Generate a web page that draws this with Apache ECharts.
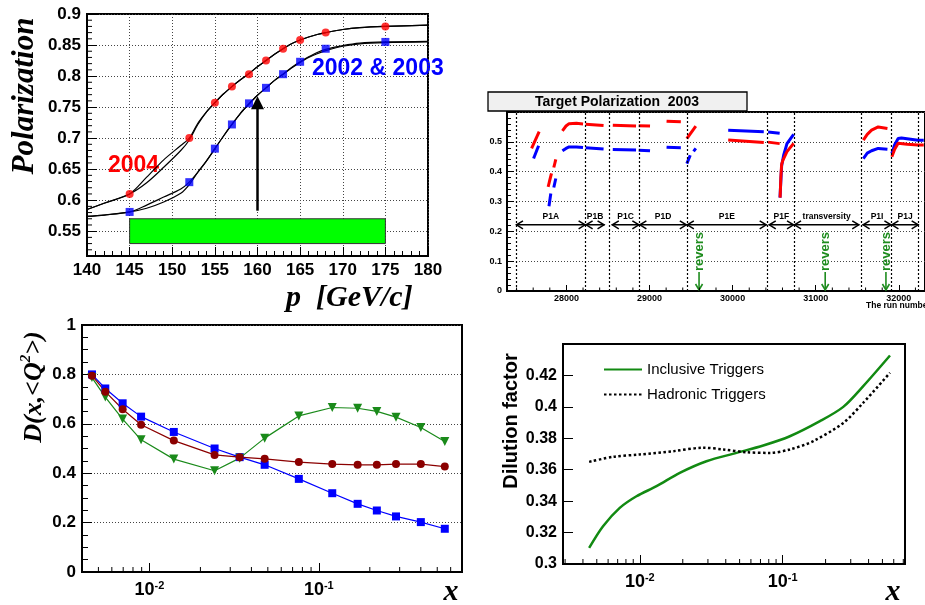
<!DOCTYPE html>
<html><head><meta charset="utf-8">
<script src="https://cdn.jsdelivr.net/npm/echarts@6/dist/echarts.min.js"></script>
<style>html,body{margin:0;padding:0;background:#fff}#c{width:925px;height:605px}</style>
</head><body><div id="c"></div><script>
// ---------- Panel 1: polarization vs momentum ----------
const p1Momentum = [145,152,155,157,159,161,163,165,168,175];
const p1Pol2004 = [0.610,0.700,0.757,0.783,0.803,0.825,0.844,0.858,0.870,0.880];
const p1Pol0203 = [0.581,0.629,0.683,0.722,0.756,0.781,0.803,0.823,0.844,0.855];
const p1FitRedA = [[140,0.585],[142,0.595],[145,0.610],[147,0.637],[149,0.665],[151,0.688],[152,0.700],[153,0.724],[154,0.742],[155,0.757],[156,0.771],[157,0.783],[158,0.794],[159,0.804],[160,0.815],[161,0.825],[162,0.835],[163,0.844],[164,0.852],[165,0.858],[166,0.863],[167,0.867],[168,0.870],[170,0.875],[172,0.878],[175,0.880],[180,0.882]];
const p1FitRedB = [[140,0.585],[142,0.595],[145,0.610],[147,0.628],[149,0.653],[151,0.680],[152,0.697],[153,0.722],[154,0.742],[155,0.757],[156,0.771],[157,0.783],[158,0.794],[159,0.804],[160,0.815],[161,0.825],[162,0.835],[163,0.844],[164,0.852],[165,0.858],[166,0.863],[167,0.867],[168,0.870],[170,0.875],[172,0.878],[175,0.880],[180,0.882]];
const p1FitBlueA = [[140,0.574],[142,0.576],[145,0.581],[147,0.592],[149,0.605],[151,0.618],[152,0.629],[153,0.645],[154,0.663],[155,0.683],[156,0.703],[157,0.722],[158,0.740],[159,0.755],[160,0.769],[161,0.781],[162,0.793],[163,0.803],[164,0.814],[165,0.823],[166,0.831],[167,0.838],[168,0.843],[170,0.849],[172,0.853],[175,0.855],[180,0.856]];
const p1FitBlueB = [[140,0.574],[142,0.576],[145,0.581],[147,0.587],[149,0.597],[151,0.611],[152,0.625],[153,0.645],[154,0.663],[155,0.683],[156,0.703],[157,0.722],[158,0.740],[159,0.755],[160,0.769],[161,0.781],[162,0.793],[163,0.803],[164,0.813],[165,0.822],[166,0.830],[167,0.836],[168,0.841],[170,0.848],[172,0.852],[175,0.854],[180,0.855]];
const p1BandX = [145,175];
const p1BandY = [0.53,0.57];
const p1Arrow = {x:160, from:0.583, to:0.757};
const p1MinorY = [0.52,0.53,0.54,0.56,0.57,0.58,0.59,0.61,0.62,0.63,0.64,0.66,0.67,0.68,0.69,0.71,0.72,0.73,0.74,0.76,0.77,0.78,0.79,0.81,0.82,0.83,0.84,0.86,0.87,0.88,0.89];

// ---------- Panel 2: target polarization 2003 ----------
const p2RedSegments = [
  [[27581,0.478],[27672,0.534]],
  [[27780,0.349],[27820,0.394]],
  [[27848,0.414],[27872,0.441]],
  [[27952,0.537],[27995,0.553],[28032,0.561],[28120,0.562],[28200,0.560]],
  [[28231,0.559],[28447,0.555]],
  [[28558,0.556],[28838,0.553]],
  [[28870,0.554],[29006,0.553]],
  [[29205,0.569],[29377,0.567]],
  [[29449,0.511],[29557,0.553]],
  [[29947,0.506],[30375,0.498]],
  [[30427,0.499],[30566,0.494]],
  [[30572,0.313],[30580,0.380],[30590,0.425],[30606,0.439],[30654,0.467],[30734,0.495]],
  [[31573,0.506],[31620,0.525],[31672,0.539],[31752,0.550],[31863,0.545]],
  [[31916,0.450],[31950,0.475],[31992,0.495],[32100,0.492],[32231,0.489],[32300,0.489]]
];
const p2BlueSegments = [
  [[27605,0.444],[27665,0.487]],
  [[27790,0.284],[27812,0.327]],
  [[27848,0.347],[27872,0.377]],
  [[27952,0.470],[27995,0.478],[28032,0.483],[28120,0.483],[28200,0.481]],
  [[28231,0.480],[28447,0.476]],
  [[28558,0.474],[28838,0.473]],
  [[28870,0.472],[29006,0.470]],
  [[29205,0.482],[29377,0.480]],
  [[29449,0.427],[29490,0.455]],
  [[29530,0.468],[29557,0.478]],
  [[29947,0.539],[30375,0.534]],
  [[30427,0.533],[30566,0.529]],
  [[30570,0.313],[30590,0.420],[30614,0.455],[30654,0.494],[30734,0.525]],
  [[31573,0.444],[31620,0.462],[31672,0.470],[31752,0.478],[31863,0.475]],
  [[31916,0.461],[31950,0.490],[31992,0.511],[32032,0.513],[32231,0.505],[32300,0.505]]
];
const p2Boundaries = [27393,28231,28510,28878,29449,30419,30739,31545,31911,32239];
const p2PeriodNames = ['P1A','P1B','P1C','P1D','P1E','P1F','transversity','P1I','P1J'];
const p2PeriodStart = [27393,28231,28546,28878,29449,30435,30739,31564,31911];
const p2PeriodEnd   = [28231,28459,28878,29449,30410,30739,31524,31911,32239];
const p2ArrowY = 0.222, p2LabelY = 0.248;
const p2Reversals = [29596,31114,31845];
const p2MinorX = [27400,27600,27800,28200,28400,28600,28800,29200,29400,29600,29800,30200,30400,30600,30800,31200,31400,31600,31800,32200];

// ---------- Panel 3: D(x,<Q2>) ----------
const p3X = [0.00458,0.00549,0.00695,0.00893,0.01393,0.02425,0.0341,0.0479,0.0762,0.120,0.1695,0.220,0.2855,0.400,0.554];
const p3Blue  = [0.800,0.743,0.683,0.629,0.567,0.500,0.465,0.434,0.377,0.319,0.276,0.249,0.225,0.202,0.175];
const p3Red   = [0.795,0.730,0.659,0.596,0.532,0.474,0.465,0.458,0.445,0.437,0.434,0.434,0.437,0.437,0.427];
const p3Green = [0.787,0.708,0.619,0.535,0.457,0.410,0.461,0.542,0.632,0.666,0.663,0.650,0.627,0.585,0.528];
const p3MinorX = [0.005,0.006,0.007,0.008,0.009,0.02,0.03,0.04,0.05,0.06,0.07,0.08,0.09,0.2,0.3,0.4,0.5,0.6,0.7];

// ---------- Panel 4: dilution factor ----------
const p4IncX = [0.00442,0.00553,0.00724,0.00948,0.0131,0.01906,0.0293,0.0476,0.0732,0.1124,0.1826,0.266,0.367,0.565];
const p4Inc  = [0.3102,0.3240,0.3357,0.3431,0.3495,0.3580,0.3654,0.3707,0.3754,0.3813,0.3909,0.4000,0.4132,0.4327];
const p4HadX = [0.00442,0.0065,0.01,0.01713,0.0278,0.0384,0.056,0.0815,0.1124,0.164,0.266,0.367,0.565];
const p4Had  = [0.3650,0.3682,0.3697,0.3718,0.3740,0.3729,0.3711,0.3707,0.3729,0.3782,0.3898,0.4026,0.4217];
const p4MinorX = [0.003,0.004,0.005,0.006,0.007,0.008,0.009,0.02,0.03,0.04,0.05,0.06,0.07,0.08,0.09,0.2,0.3,0.4,0.5,0.6,0.7];

// ---------- helpers ----------
const SANS = 'Liberation Sans';
const zip = (xs, ys) => xs.map((x, i) => [x, ys[i]]);
function minorTicks(idx, vals, dir, anchor, len) {
  return {
    type: 'custom', xAxisIndex: idx, yAxisIndex: idx, silent: true, z: 5,
    data: vals.map(v => dir === 'x' ? [v, anchor] : [anchor, v]),
    renderItem: (params, api) => {
      const p = api.coord([api.value(0), api.value(1)]);
      return {type: 'line',
        shape: dir === 'x' ? {x1: p[0], y1: p[1], x2: p[0], y2: p[1] - len} : {x1: p[0], y1: p[1], x2: p[0] + len, y2: p[1]},
        style: {stroke: '#000', lineWidth: 1}};
    }
  };
}
function axisBase(o) {
  const fs = o.fs || 17;
  return Object.assign({
    type: 'value',
    axisLine: {show: true, onZero: false, lineStyle: {color: '#000', width: 2}},
    axisTick: {show: true, inside: true, length: o.tick || 9, lineStyle: {color: '#000', width: 1}},
    axisLabel: {color: '#000', fontFamily: SANS, fontWeight: 'bold', fontSize: fs, margin: o.margin || 6},
    splitLine: {show: false}
  }, o.extra || {});
}
const dotted = {show: true, lineStyle: {color: '#444', type: [1, 2], width: 1}};
const logLabel = v => '{b|10}{s|' + Math.round(Math.log10(v)) + '}';

const grids = [
  {left: 87, top: 14, width: 341, height: 242},
  {left: 507, top: 112, width: 420, height: 179},
  {left: 82, top: 325, width: 380, height: 247},
  {left: 563, top: 344, width: 342, height: 220}
].map(g => Object.assign(g, {show: true, borderColor: '#000', borderWidth: 2, backgroundColor: 'transparent', containLabel: false}));

const xAxes = [
  axisBase({extra: {gridIndex: 0, min: 140, max: 180, interval: 5, splitLine: dotted,
    minorTick: {show: true, splitNumber: 5, length: 5, lineStyle: {color: '#000'}}}}),
  axisBase({fs: 9, tick: 6, margin: 3, extra: {gridIndex: 1, min: 27285, max: 32315, splitNumber: 5}}),
  axisBase({tick: 9, margin: 8, extra: {gridIndex: 2, type: 'log', logBase: 10, min: 0.004, max: 0.7}}),
  axisBase({tick: 9, margin: 8, extra: {gridIndex: 3, type: 'log', logBase: 10, min: 0.0029, max: 0.7195}})
];
xAxes[1].axisLabel.showMinLabel = false; xAxes[1].axisLabel.showMaxLabel = false;
xAxes[1].axisLabel.formatter = v => String(v);
[2, 3].forEach(i => {
  xAxes[i].axisLabel.showMinLabel = false; xAxes[i].axisLabel.showMaxLabel = false;
  xAxes[i].axisLabel.formatter = logLabel;
  xAxes[i].axisLabel.rich = {
    b: {fontFamily: SANS, fontWeight: 'bold', fontSize: 18, color: '#000', lineHeight: 20},
    s: {fontFamily: SANS, fontWeight: 'bold', fontSize: 11, color: '#000', verticalAlign: 'top', padding: [0, 0, 10, 0]}
  };
});

const yAxes = [
  axisBase({margin: 6, tick: 10, extra: {gridIndex: 0, min: 0.51, max: 0.9, splitNumber: 8, splitLine: dotted}}),
  axisBase({fs: 9, tick: 7, margin: 5, extra: {gridIndex: 1, min: 0, max: 0.6, interval: 0.1, splitLine: dotted,
    minorTick: {show: true, splitNumber: 5, length: 4, lineStyle: {color: '#000'}}}}),
  axisBase({margin: 6, tick: 10, extra: {gridIndex: 2, min: 0, max: 1, interval: 0.2, splitLine: dotted,
    minorTick: {show: true, splitNumber: 4, length: 6, lineStyle: {color: '#000'}}}}),
  axisBase({fs: 16, margin: 6, tick: 10, extra: {gridIndex: 3, min: 0.3, max: 0.44, interval: 0.02}})
];
yAxes[0].axisLabel.showMinLabel = false;
yAxes[1].axisLabel.showMaxLabel = false;
yAxes[3].axisLabel.showMaxLabel = false;

const series = [];
// Panel 1
[p1FitRedA, p1FitRedB, p1FitBlueA, p1FitBlueB].forEach(d => series.push({
  type: 'line', xAxisIndex: 0, yAxisIndex: 0, data: d, smooth: 0.3, symbol: 'none',
  lineStyle: {color: '#000', width: 1.2}, silent: true
}));
series.push({
  type: 'scatter', xAxisIndex: 0, yAxisIndex: 0, data: zip(p1Momentum, p1Pol2004),
  symbol: 'circle', symbolSize: 8, itemStyle: {color: '#ff0000'}, z: 4,
  markArea: {silent: true, itemStyle: {color: '#00ff00', borderColor: '#333', borderWidth: 1},
    data: [[{coord: [p1BandX[0], p1BandY[0]]}, {coord: [p1BandX[1], p1BandY[1]]}]]},
  markLine: {silent: true, symbol: ['none', 'triangle'], symbolSize: 13, label: {show: false},
    lineStyle: {color: '#000', width: 2.5, type: 'solid'},
    data: [[{coord: [p1Arrow.x, p1Arrow.from]}, {coord: [p1Arrow.x, p1Arrow.to]}]]}
});
series.push({
  type: 'scatter', xAxisIndex: 0, yAxisIndex: 0, data: zip(p1Momentum, p1Pol0203),
  symbol: 'rect', symbolSize: 8, itemStyle: {color: '#0000ff'}, z: 4
});
series.push(minorTicks(0, p1MinorY, 'y', 140, 5));

// Panel 2
p2BlueSegments.forEach(seg => series.push({
  type: 'line', xAxisIndex: 1, yAxisIndex: 1, data: seg, symbol: 'none', silent: true,
  lineStyle: {color: '#0000ff', width: 3}
}));
p2RedSegments.forEach(seg => series.push({
  type: 'line', xAxisIndex: 1, yAxisIndex: 1, data: seg, symbol: 'none', silent: true,
  lineStyle: {color: '#ff0000', width: 3}
}));
series.push({
  type: 'custom', xAxisIndex: 1, yAxisIndex: 1, silent: true,
  data: p2PeriodStart.map((s, i) => [s, p2PeriodEnd[i]]),
  markLine: {silent: true, symbol: ['none', 'none'], label: {show: false},
    lineStyle: {color: '#000', type: [2, 2], width: 1.2},
    data: p2Boundaries.map(v => ({xAxis: v}))},
  renderItem: (params, api) => {
    const x0 = api.value(0), x1 = api.value(1);
    const a = api.coord([x0, p2ArrowY]), b = api.coord([x1, p2ArrowY]);
    const t = api.coord([(x0 + x1) / 2, p2LabelY]);
    const w = 7, h = 4;
    const st = {stroke: '#000', lineWidth: 1.5, fill: null};
    return {type: 'group', children: [
      {type: 'line', shape: {x1: a[0], y1: a[1], x2: b[0], y2: b[1]}, style: st},
      {type: 'polyline', shape: {points: [[a[0] + w, a[1] - h], [a[0] + 0.5, a[1]], [a[0] + w, a[1] + h]]}, style: st},
      {type: 'polyline', shape: {points: [[b[0] - w, b[1] - h], [b[0] - 0.5, b[1]], [b[0] - w, b[1] + h]]}, style: st},
      {type: 'text', x: t[0], y: t[1], style: {text: p2PeriodNames[params.dataIndex], fill: '#000',
        font: 'bold 8.5px "Liberation Sans"', align: 'center', verticalAlign: 'middle'}}
    ]};
  }
});
series.push({
  type: 'custom', xAxisIndex: 1, yAxisIndex: 1, silent: true,
  data: p2Reversals.map(v => [v, 0]),
  renderItem: (params, api) => {
    const p = api.coord([api.value(0), api.value(1)]);
    const g = '#1e8c1e';
    const st = {stroke: g, lineWidth: 1.6, fill: null};
    return {type: 'group', children: [
      {type: 'line', shape: {x1: p[0], y1: p[1] - 1, x2: p[0], y2: p[1] - 19}, style: st},
      {type: 'polyline', shape: {points: [[p[0] - 3.5, p[1] - 7], [p[0], p[1] - 1], [p[0] + 3.5, p[1] - 7]]}, style: st},
      {type: 'text', x: p[0], y: p[1] - 20, rotation: Math.PI / 2,
        style: {text: 'revers', fill: g, font: 'bold 13px "Liberation Sans"', align: 'left', verticalAlign: 'middle'}}
    ]};
  }
});
series.push(minorTicks(1, p2MinorX, 'x', 0, 3.5));

// Panel 3
series.push({type: 'line', xAxisIndex: 2, yAxisIndex: 2, data: zip(p3X, p3Blue), symbol: 'rect', symbolSize: 8,
  lineStyle: {color: '#0000ff', width: 1.2}, itemStyle: {color: '#0000ff'}, silent: true});
series.push({type: 'line', xAxisIndex: 2, yAxisIndex: 2, data: zip(p3X, p3Green), symbol: 'triangle', symbolRotate: 180, symbolSize: 9,
  lineStyle: {color: '#1a8a1a', width: 1.2}, itemStyle: {color: '#1a8a1a'}, silent: true});
series.push({type: 'line', xAxisIndex: 2, yAxisIndex: 2, data: zip(p3X, p3Red), symbol: 'circle', symbolSize: 8,
  lineStyle: {color: '#8b0000', width: 1.2}, itemStyle: {color: '#8b0000'}, silent: true});
series.push(minorTicks(2, p3MinorX, 'x', 0, 5));

// Panel 4
series.push({name: 'Inclusive Triggers', type: 'line', xAxisIndex: 3, yAxisIndex: 3, data: zip(p4IncX, p4Inc),
  smooth: 0.3, symbol: 'none', lineStyle: {color: '#128a12', width: 2.5}, itemStyle: {color: '#128a12'}, silent: true});
series.push({name: 'Hadronic Triggers', type: 'line', xAxisIndex: 3, yAxisIndex: 3, data: zip(p4HadX, p4Had),
  smooth: 0.3, symbol: 'none', lineStyle: {color: '#000', width: 2.5, type: [2.5, 2.5]}, itemStyle: {color: '#000'}, silent: true});
series.push(minorTicks(3, p4MinorX, 'x', 0.3, 5));

const txt = (x, y, text, font, fill, opts) => Object.assign({type: 'text', x, y,
  style: Object.assign({text, font, fill: fill || '#000', align: 'left', verticalAlign: 'middle', textAlign: 'left', textVerticalAlign: 'middle'}, (opts && opts.style) || {})},
  (opts && opts.el) || {});

const graphic = [
  txt(25, 96, 'Polarization', 'italic bold 31px "Liberation Serif"', '#000', {el: {rotation: Math.PI / 2}, style: {align: 'center', textAlign: 'center'}}),
  txt(286, 298, 'p  [GeV/c]', 'italic bold 30px "Liberation Serif"'),
  txt(108, 166, '2004', 'bold 23px "Liberation Sans"', '#ff0000'),
  txt(312, 69, '2002 & 2003', 'bold 23px "Liberation Sans"', '#0000ff'),
  {type: 'rect', shape: {x: 488, y: 92, width: 259, height: 19}, style: {fill: '#f0f0f0', stroke: '#000', lineWidth: 1.3}},
  txt(617, 102, 'Target Polarization  2003', 'bold 14px "Liberation Sans"', '#000', {style: {align: 'center', textAlign: 'center'}}),
  txt(866, 306, 'The run number', 'bold 8.5px "Liberation Sans"'),
  {type: 'text', x: 34, y: 387, rotation: Math.PI / 2, style: {
    text: '{a|D(x,<Q}{s|2}{a|>)}', align: 'center', verticalAlign: 'middle', textAlign: 'center', textVerticalAlign: 'middle',
    rich: {a: {font: 'italic bold 26px "Liberation Serif"', fill: '#000', lineHeight: 30},
           s: {font: 'italic bold 15px "Liberation Serif"', fill: '#000', verticalAlign: 'top', padding: [0, 0, 12, 0]}}}},
  txt(451, 592, 'x', 'italic bold 30px "Liberation Serif"', '#000', {style: {align: 'center', textAlign: 'center'}}),
  txt(511, 421, 'Dilution factor', 'bold 20px "Liberation Sans"', '#000', {el: {rotation: Math.PI / 2}, style: {align: 'center', textAlign: 'center'}}),
  txt(893, 592, 'x', 'italic bold 30px "Liberation Serif"', '#000', {style: {align: 'center', textAlign: 'center'}})
];

const chart = echarts.init(document.getElementById('c'), null, {renderer: 'canvas'});
chart.setOption({
  animation: false,
  backgroundColor: '#fff',
  grid: grids,
  xAxis: xAxes,
  yAxis: yAxes,
  legend: {data: ['Inclusive Triggers', 'Hadronic Triggers'], orient: 'vertical', left: 598, top: 357,
    itemWidth: 38, itemHeight: 14, itemGap: 10, itemStyle: {opacity: 0},
    textStyle: {fontFamily: SANS, fontSize: 15, color: '#000'}, selectedMode: false},
  series: series,
  graphic: graphic
});
</script></body></html>
